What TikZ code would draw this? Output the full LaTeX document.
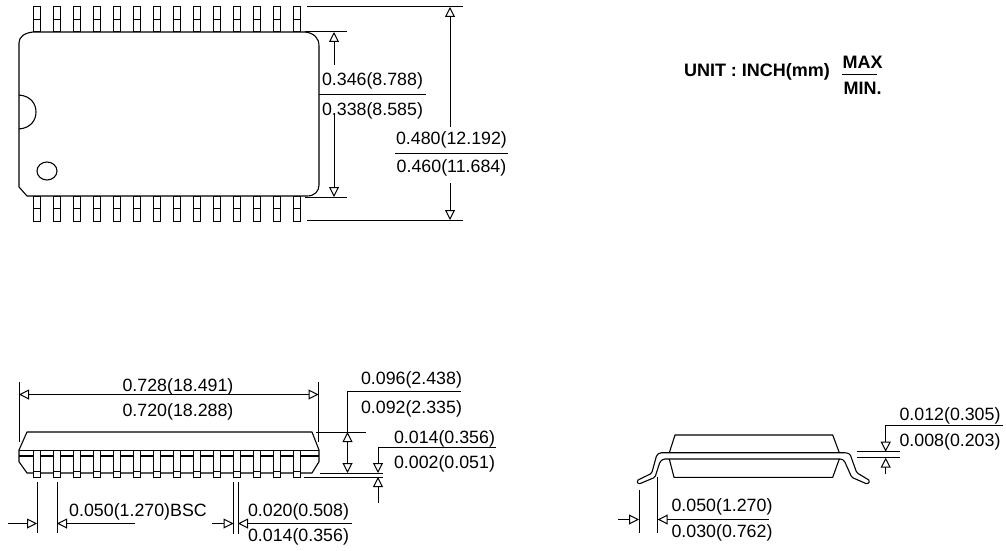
\documentclass[tikz,border=0pt]{standalone}
\usepackage{fontspec}
\setmainfont{Liberation Sans}
\usetikzlibrary{arrows.meta}
\tikzset{
    dimtext/.style={inner sep=0pt,yshift=-1.5pt,font=\fontsize{17.8}{20}\selectfont},
    unittext/.style={inner sep=0pt,font=\fontsize{18}{20}\selectfont\bfseries},
    outline/.style={line width=1.1pt,line join=round},
    thinline/.style={line width=1pt},
    dimtip/.style={line width=1pt,-{Triangle[open,length=10pt,width=10pt]}},
    dimboth/.style={line width=1pt,{Triangle[open,length=10pt,width=10pt]}-{Triangle[open,length=10pt,width=10pt]}},
    leadpin/.style={line width=1pt,fill=white},
}
\begin{document}
\begin{tikzpicture}[x=1pt,y=-1pt]
    \useasboundingbox (0,0) rectangle (1006,551);
    % Top view
    \foreach \px in {37,57,...,297} {
        \draw[leadpin] (\px-3.3,7) rectangle (\px+3.3,32);
        \draw[leadpin] (\px-3.3,196) rectangle (\px+3.3,221);
        \draw[thinline] (\px-4,20) -- (\px+4,20);
        \draw[thinline] (\px-3.3,208) -- (\px+3.3,208);
    }
    \draw[outline,fill=white] (33,32) -- (305,32) .. controls (314,33) and (319,38) .. (319,46)
        -- (319,185) .. controls (319,191) and (315,196) .. (307,196) -- (27,196) -- (19,187)
        -- (19,43) .. controls (19,37) and (24,33) .. (33,32) -- cycle;
    \draw[line width=1.1pt] (19,95) .. controls (31,96) and (36,104) .. (36,112) .. controls (36,120) and (31,128) .. (19,129);
    \draw[outline] (47,171) ellipse (10 and 9);
    % Width of body
    \draw[thinline] (305,32) -- (347,32);
    \draw[thinline] (305,197) -- (347,197);
    \coordinate (bodytop) at (334,32);
    \coordinate (bodybot) at (334,197);
    \draw[dimtip] (334,65) -- (bodytop);
    \draw[dimtip] (334,113) -- (bodybot);
    \draw[thinline] (319,94.5) -- (426,94.5);
    \node[dimtext] (bodymax) at (372.5,79) {0.346(8.788)};
    \node[dimtext] (bodymin) at (372.5,109) {0.338(8.585)};
    % Width over leads
    \draw[thinline] (307,7) -- (463,7);
    \draw[thinline] (307,220) -- (463,220);
    \coordinate (leadtop) at (450,7);
    \coordinate (leadbot) at (450,220);
    \draw[dimtip] (450,127) -- (leadtop);
    \draw[dimtip] (450,183) -- (leadbot);
    \draw[thinline] (395,153) -- (508,153);
    \node[dimtext] (leadmax) at (451.5,138) {0.480(12.192)};
    \node[dimtext] (leadmin) at (451.5,166) {0.460(11.684)};
    % Unit
    \node[unittext] (unit) at (757,72) {UNIT : INCH(mm)};
    \node[unittext] (unitmax) at (862.5,62.5) {MAX};
    \node[unittext] (unitmin) at (862.5,88.5) {MIN.};
    \draw[line width=1.1pt] (842,74.5) -- (877,74.5);
    % Side view
    \draw[outline,fill=white] (27,432) -- (312,432) -- (319,450) -- (319,461.7) -- (312,473) -- (27,473) -- (19,461.7) -- (19,450) -- cycle;
    \draw[outline] (19,450.5) -- (319,450.5);
    \draw[outline] (19,456) -- (319,456);
    \foreach \px in {37,57,...,297} {
        \draw[leadpin] (\px-3.3,450.5) rectangle (\px+3.3,477);
        \draw[thinline] (\px-3.3,471) -- (\px+3.3,471);
    }
    % Length
    \draw[thinline] (19,382) -- (19,441.5);
    \draw[thinline] (318.5,382) -- (318.5,441.5);
    \coordinate (lenleft) at (19,394.5);
    \coordinate (lenright) at (318.5,394.5);
    \draw[dimboth] (lenleft) -- (lenright);
    \node[dimtext] (lenmax) at (178,385) {0.728(18.491)};
    \node[dimtext] (lenmin) at (178,410) {0.720(18.288)};
    % Height
    \draw[thinline] (461,391) -- (347.5,391) -- (347.5,432);
    \draw[thinline] (316,432) -- (366,432);
    \draw[thinline] (320,473) -- (383,473);
    \draw[thinline] (304,477) -- (383,477);
    \coordinate (hgttop) at (347.5,432);
    \coordinate (hgtbot) at (347.5,473);
    \draw[dimboth] (hgttop) -- (hgtbot);
    \node[dimtext] (hgtmax) at (411.5,378) {0.096(2.438)};
    \node[dimtext] (hgtmin) at (411.5,407) {0.092(2.335)};
    % Standoff
    \draw[thinline] (496,447) -- (378,447) -- (378,462);
    \coordinate (offtop) at (378,473);
    \coordinate (offbot) at (378,477);
    \draw[dimtip] (378,460) -- (offtop);
    \draw[dimtip] (378,503) -- (offbot);
    \node[dimtext] (offmax) at (444.5,437) {0.014(0.356)};
    \node[dimtext] (offmin) at (444.5,462) {0.002(0.051)};
    % Pitch
    \draw[thinline] (37,482) -- (37,533);
    \draw[thinline] (57,482) -- (57,533);
    \coordinate (pitchleft) at (37,523.5);
    \coordinate (pitchright) at (57,523.5);
    \draw[dimtip] (8,523.5) -- (pitchleft);
    \draw[dimtip] (135,523.5) -- (pitchright);
    \node[dimtext] (pitch) at (138,510) {0.050(1.270)BSC};
    % Lead width
    \draw[thinline] (233.5,482) -- (233.5,534);
    \draw[thinline] (238,482) -- (238,534);
    \coordinate (wdleft) at (233.5,523.5);
    \coordinate (wdright) at (238,523.5);
    \draw[dimtip] (212,523.5) -- (wdleft);
    \draw[dimtip] (352,523.5) -- (wdright);
    \node[dimtext] (wdmax) at (298.5,510.5) {0.020(0.508)};
    \node[dimtext] (wdmin) at (298.5,535.5) {0.014(0.356)};
    % End view
    \draw[outline] (669.3,452.7) -- (675,435) -- (832.7,435) -- (839.3,452.7);
    \draw[outline] (669.3,459) -- (674,477.3) -- (832.7,477.3) -- (839.3,459);
    \draw[outline,rounded corners=1.5pt] (636.7,480.7) -- (651.7,473.3) -- (656.7,455) -- (660,452.7) -- (846,452.7) -- (850,454)
        -- (856.7,472.7) -- (870,480.7) -- (867.7,484.3) -- (851.7,477.3) -- (844.3,460.7) -- (841.7,459)
        -- (663.3,459) -- (660,461.7) -- (655,477.3) -- (638.3,484.3) -- cycle;
    % Foot length
    \draw[thinline] (639,490) -- (639,532.5);
    \draw[thinline] (657.7,477) -- (657.7,532.5);
    \coordinate (footleft) at (639,519.5);
    \coordinate (footright) at (657.7,519.5);
    \draw[dimtip] (618.3,519.5) -- (footleft);
    \draw[dimtip] (769.3,519.5) -- (footright);
    \node[dimtext] (footmax) at (722,505) {0.050(1.270)};
    \node[dimtext] (footmin) at (722,531.5) {0.030(0.762)};
    % Lead thickness
    \draw[thinline] (857.3,451.7) -- (900,451.7);
    \draw[thinline] (857.3,457.7) -- (900,457.7);
    \draw[thinline] (1003,425.7) -- (885.7,425.7) -- (885.7,440);
    \coordinate (thktop) at (885.7,451.7);
    \coordinate (thkbot) at (885.7,457.7);
    \draw[dimtip] (885.7,438) -- (thktop);
    \draw[dimtip] (885.7,474.3) -- (thkbot);
    \node[dimtext] (thkmax) at (950,414) {0.012(0.305)};
    \node[dimtext] (thkmin) at (950,440.5) {0.008(0.203)};
\end{tikzpicture}
\end{document}
